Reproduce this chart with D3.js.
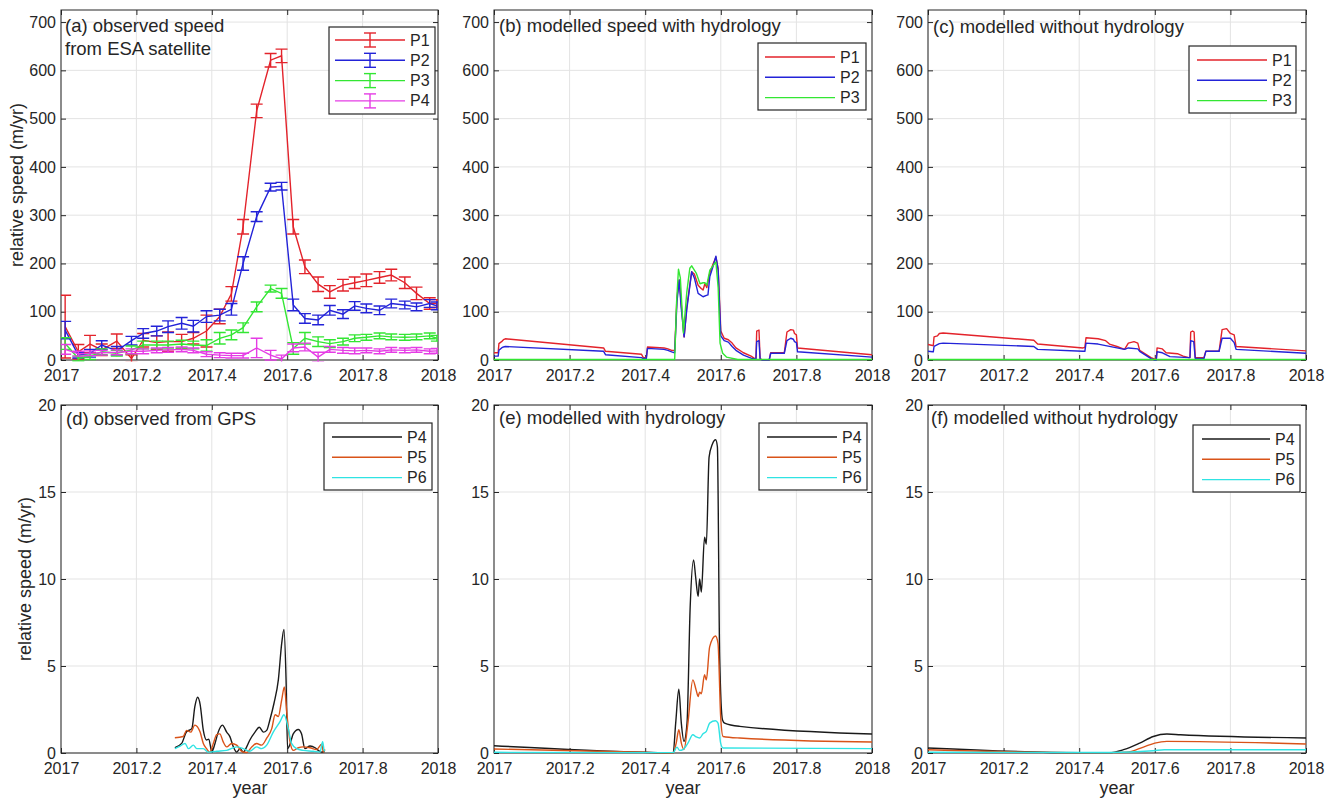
<!DOCTYPE html>
<html><head><meta charset="utf-8">
<script src="https://cdn.jsdelivr.net/npm/d3@7"></script>
<style>
body{margin:0;background:#fff;}
svg text{font-family:"Liberation Sans",Arial,Helvetica,sans-serif;fill:#262626;}
</style></head>
<body><svg id="c" width="1335" height="801"></svg>
<script>
// ---------- tick data ----------
const xTicks = [2017, 2017.2, 2017.4, 2017.6, 2017.8, 2018];
const xTickLabels = ["2017", "2017.2", "2017.4", "2017.6", "2017.8", "2018"];
const yTicksTop = [0, 100, 200, 300, 400, 500, 600, 700];
const yTicksBottom = [0, 5, 10, 15, 20];

// ---------- (a) observed satellite speed with error bars ----------
const obsTime = [2017.011, 2017.046, 2017.077, 2017.108, 2017.148, 2017.187, 2017.218, 2017.254, 2017.284, 2017.320, 2017.351, 2017.386, 2017.421, 2017.452, 2017.483, 2017.519, 2017.556, 2017.585, 2017.616, 2017.647, 2017.682, 2017.713, 2017.748, 2017.779, 2017.810, 2017.845, 2017.876, 2017.912, 2017.943, 2017.978, 2017.997];
const obsP1 = [69, 17, 33, 21, 39, 3, 41, 36, 38, 38, 45, 60, 90, 137, 276, 516, 621, 630, 276, 193, 157, 141, 155, 160, 165, 171, 176, 160, 138, 117, 117];
const obsP1Err = [65, 15, 18, 12, 15, 8, 14, 14, 20, 15, 12, 33, 15, 15, 15, 14, 14, 14, 15, 14, 15, 13, 12, 12, 13, 12, 12, 12, 13, 12, 8];
const obsP2 = [62, 10, 14, 31, 19, 40, 55, 60, 69, 76, 70, 90, 93, 105, 200, 297, 358, 360, 114, 86, 83, 103, 95, 112, 107, 103, 117, 114, 110, 117, 112];
const obsP2Err = [18, 6, 8, 9, 9, 9, 10, 10, 12, 12, 12, 12, 12, 12, 14, 10, 8, 8, 12, 10, 10, 10, 9, 9, 9, 9, 9, 8, 8, 8, 8];
const obsP3 = [34, 3, 7, 17, 14, 21, 31, 31, 31, 33, 31, 30, 45, 52, 67, 110, 148, 138, 24, 45, 38, 34, 38, 45, 47, 50, 48, 47, 48, 50, 45];
const obsP3Err = [12, 5, 6, 6, 6, 8, 8, 8, 8, 8, 8, 12, 12, 10, 10, 10, 7, 10, 12, 12, 10, 8, 7, 7, 6, 6, 6, 6, 6, 6, 6];
const obsP4 = [22, 13, 14, 15, 16, 18, 18, 20, 21, 22, 20, 12, 10, 9, 9, 25, 10, 2, 25, 27, 6, 22, 20, 19, 20, 18, 21, 20, 21, 18, 19];
const obsP4Err = [10, 5, 5, 5, 5, 5, 5, 5, 5, 5, 5, 5, 5, 5, 5, 20, 10, 8, 8, 8, 10, 6, 6, 6, 5, 5, 5, 5, 5, 5, 5];

// ---------- (b) modelled with hydrology ----------
const bP1 = [[2017.0,15],[2017.011,15],[2017.013,34],[2017.02,38],[2017.025,42],[2017.03,44],[2017.29,25],[2017.295,18],[2017.39,12],[2017.395,5],[2017.403,5],[2017.406,27],[2017.45,25],[2017.46,23],[2017.47,20],[2017.478,20],[2017.484,130],[2017.49,166],[2017.495,120],[2017.503,48],[2017.51,110],[2017.523,183],[2017.53,178],[2017.54,155],[2017.548,148],[2017.553,145],[2017.558,158],[2017.563,150],[2017.571,180],[2017.58,200],[2017.587,213],[2017.593,190],[2017.6,60],[2017.609,45],[2017.62,42],[2017.63,35],[2017.64,25],[2017.66,15],[2017.68,8],[2017.69,3],[2017.693,3],[2017.695,60],[2017.701,62],[2017.704,3],[2017.71,0],[2017.728,0],[2017.732,15],[2017.768,15],[2017.775,58],[2017.785,63],[2017.792,62],[2017.795,55],[2017.8,52],[2017.803,25],[2018.0,11]];
const bP2 = [[2017.0,8],[2017.011,8],[2017.013,20],[2017.02,25],[2017.025,27],[2017.03,28],[2017.29,18],[2017.295,11],[2017.39,5],[2017.395,3],[2017.403,3],[2017.406,24],[2017.45,22],[2017.46,20],[2017.47,17],[2017.478,15],[2017.484,120],[2017.49,166],[2017.495,110],[2017.503,48],[2017.51,105],[2017.523,183],[2017.53,170],[2017.54,138],[2017.553,131],[2017.562,134],[2017.566,135],[2017.571,173],[2017.58,195],[2017.587,215],[2017.593,186],[2017.6,50],[2017.609,40],[2017.62,37],[2017.63,28],[2017.64,20],[2017.66,10],[2017.68,4],[2017.69,2],[2017.693,2],[2017.695,38],[2017.701,40],[2017.704,2],[2017.71,0],[2017.728,0],[2017.732,14],[2017.768,14],[2017.775,40],[2017.785,45],[2017.792,43],[2017.795,38],[2017.8,36],[2017.803,17],[2018.0,6]];
const bP3 = [[2017.0,1],[2017.478,1],[2017.483,120],[2017.488,188],[2017.493,170],[2017.501,56],[2017.51,140],[2017.518,190],[2017.523,195],[2017.535,180],[2017.545,158],[2017.553,160],[2017.558,160],[2017.563,155],[2017.571,186],[2017.58,196],[2017.587,203],[2017.593,150],[2017.598,35],[2017.605,14],[2017.615,6],[2017.645,1],[2018.0,1]];

// ---------- (c) modelled without hydrology ----------
const cP1 = [[2017.0,32],[2017.012,30],[2017.014,30],[2017.016,48],[2017.025,50],[2017.03,55],[2017.04,56],[2017.28,41],[2017.29,33],[2017.41,25],[2017.415,26],[2017.418,46],[2017.45,44],[2017.47,40],[2017.48,33],[2017.5,28],[2017.52,22],[2017.53,35],[2017.545,38],[2017.555,35],[2017.56,20],[2017.59,5],[2017.6,2],[2017.604,2],[2017.606,25],[2017.62,23],[2017.63,15],[2017.66,13],[2017.675,8],[2017.69,5],[2017.693,5],[2017.695,58],[2017.7,60],[2017.704,58],[2017.707,5],[2017.73,5],[2017.735,18],[2017.77,18],[2017.778,63],[2017.79,65],[2017.8,55],[2017.81,52],[2017.815,28],[2018.0,19]];
const cP2 = [[2017.0,18],[2017.012,17],[2017.014,17],[2017.016,28],[2017.03,34],[2017.04,35],[2017.28,28],[2017.29,22],[2017.41,18],[2017.415,18],[2017.418,35],[2017.45,33],[2017.5,25],[2017.52,22],[2017.53,25],[2017.555,23],[2017.56,18],[2017.59,3],[2017.6,0],[2017.604,0],[2017.606,17],[2017.62,15],[2017.64,7],[2017.69,5],[2017.693,5],[2017.695,40],[2017.703,38],[2017.707,3],[2017.73,3],[2017.735,18],[2017.77,18],[2017.778,45],[2017.8,45],[2017.81,36],[2017.815,22],[2018.0,14]];
const cP3 = [[2017.0,1],[2018.0,1]];

// ---------- (d) observed from GPS ----------
const dP4 = [[2017.302,0.3],[2017.320,0.55],[2017.333,1.22],[2017.347,1.4],[2017.355,2.66],[2017.3625,3.2],[2017.369,2.8],[2017.3775,1.3],[2017.386,0.75],[2017.392,0.8],[2017.400,0.07],[2017.4085,0.55],[2017.417,1.2],[2017.428,1.6],[2017.4395,1.2],[2017.448,0.94],[2017.457,0.36],[2017.466,0.05],[2017.475,0.25],[2017.4835,0.05],[2017.4925,0.35],[2017.501,0.75],[2017.5146,1.2],[2017.526,1.48],[2017.5367,1.2],[2017.5456,1.3],[2017.554,1.9],[2017.565,2.86],[2017.5765,4.2],[2017.5854,6.3],[2017.5915,7.1],[2017.597,4.2],[2017.601,0.25],[2017.6074,0.5],[2017.616,1.1],[2017.6295,1.35],[2017.638,1.1],[2017.647,0.25],[2017.6605,0.4],[2017.674,0.3],[2017.6825,0.15],[2017.6915,0.05],[2017.700,0.1]];
const dP5 = [[2017.302,0.88],[2017.324,0.95],[2017.333,1.3],[2017.344,1.2],[2017.355,1.6],[2017.369,1.2],[2017.3775,0.55],[2017.386,0.25],[2017.395,0.05],[2017.404,0.55],[2017.413,1.05],[2017.4215,1.1],[2017.430,0.65],[2017.4395,0.35],[2017.4525,0.55],[2017.466,0.45],[2017.479,0.1],[2017.4925,0.03],[2017.506,0.35],[2017.519,0.55],[2017.532,0.45],[2017.5456,0.85],[2017.559,1.4],[2017.568,2.2],[2017.5765,2.1],[2017.5854,3.05],[2017.5925,3.8],[2017.599,2.3],[2017.6074,0.65],[2017.616,0.15],[2017.6295,0.3],[2017.6425,0.35],[2017.6605,0.3],[2017.678,0.2],[2017.6915,0.5],[2017.696,0.05],[2017.700,0.2]];
const dP6 = [[2017.302,0.25],[2017.316,0.4],[2017.329,0.55],[2017.338,0.25],[2017.351,0.45],[2017.360,0.25],[2017.3775,0.25],[2017.391,0.05],[2017.413,0.1],[2017.4395,0.15],[2017.466,0.35],[2017.4835,0.25],[2017.501,0.1],[2017.519,0.35],[2017.532,0.25],[2017.5456,0.45],[2017.563,1.2],[2017.581,1.8],[2017.5915,2.2],[2017.603,1.4],[2017.6115,0.55],[2017.625,0.25],[2017.6425,0.15],[2017.669,0.1],[2017.687,0.05],[2017.694,0.65],[2017.698,0.15],[2017.700,0.1]];

// ---------- (e) modelled with hydrology ----------
const eP4 = [[2017.0,0.42],[2017.394,0.04],[2017.474,0],[2017.4806,1.7],[2017.489,3.66],[2017.4956,1.7],[2017.5026,0.67],[2017.5106,1.7],[2017.519,8.4],[2017.528,11.1],[2017.5335,10.1],[2017.54,9.0],[2017.544,10.0],[2017.5485,9.25],[2017.557,12.4],[2017.5617,12.0],[2017.569,17.0],[2017.5776,17.75],[2017.5864,18.0],[2017.591,17.6],[2017.597,5.5],[2017.6045,1.9],[2017.61,1.72],[2017.65,1.53],[2018.0,1.09]];
const eP5 = [[2017.0,0.23],[2017.394,0.04],[2017.474,0],[2017.482,0.57],[2017.489,1.34],[2017.4956,0.57],[2017.5026,0.2],[2017.513,1.72],[2017.526,4.2],[2017.535,3.6],[2017.54,3.25],[2017.544,3.5],[2017.5485,3.4],[2017.557,4.5],[2017.5617,4.2],[2017.5705,6.1],[2017.586,6.72],[2017.5926,6.3],[2017.5996,2.1],[2017.606,0.95],[2017.65,0.86],[2018.0,0.63]];
const eP6 = [[2017.0,0.04],[2017.474,0.02],[2017.484,0.34],[2017.491,0.15],[2017.5,0.2],[2017.513,0.57],[2017.526,1.05],[2017.535,0.92],[2017.544,0.86],[2017.553,1.1],[2017.5617,1.24],[2017.5705,1.72],[2017.586,1.85],[2017.5926,1.72],[2017.5996,0.57],[2017.606,0.29],[2018.0,0.25]];

// ---------- (f) modelled without hydrology ----------
const fP4 = [[2017.0,0.29],[2017.402,0.02],[2017.48,0.02],[2017.517,0.19],[2017.56,0.57],[2017.596,0.95],[2017.632,1.09],[2017.668,1.05],[2018.0,0.86]];
const fP5 = [[2017.0,0.19],[2017.402,0.02],[2017.48,0.02],[2017.525,0.04],[2017.57,0.34],[2017.6,0.57],[2017.632,0.67],[2018.0,0.52]];
const fP6 = [[2017.0,0.04],[2017.48,0.03],[2017.596,0.13],[2017.625,0.19],[2018.0,0.19]];

// ---------- colours ----------
const C = {red:"#e3232b", blue:"#2323d8", green:"#33e633", magenta:"#e53ce5", black:"#1a1a1a", orange:"#d95319", cyan:"#2fe3e3"};

const svg = d3.select("#c");
const FONT = "Liberation Sans, Arial, Helvetica, sans-serif";

function panel(opt) {
  const x = d3.scaleLinear().domain([2017, 2018]).range([opt.left, opt.right]);
  const y = d3.scaleLinear().domain([0, opt.ymax]).range([opt.bottom, opt.top]);
  const g = svg.append("g");
  const cid = "clip" + opt.id;
  svg.append("clipPath").attr("id", cid).append("rect")
    .attr("x", opt.left).attr("y", opt.top).attr("width", opt.right - opt.left).attr("height", opt.bottom - opt.top + 1.5);
  g.append("g").selectAll("line").data(xTicks).join("line")
    .attr("x1", d => x(d)).attr("x2", d => x(d)).attr("y1", opt.top).attr("y2", opt.bottom)
    .attr("stroke", "#e3e3e3").attr("stroke-width", 1);
  g.append("g").selectAll("line").data(opt.yticks).join("line")
    .attr("y1", d => y(d)).attr("y2", d => y(d)).attr("x1", opt.left).attr("x2", opt.right)
    .attr("stroke", "#e3e3e3").attr("stroke-width", 1);
  const xa = d3.axisBottom(x).tickValues(xTicks).tickFormat((d, i) => xTickLabels[i]).tickSizeInner(-5).tickSizeOuter(0).tickPadding(10);
  const gx = g.append("g").attr("transform", `translate(0,${opt.bottom})`).call(xa);
  const xt = d3.axisTop(x).tickValues(xTicks).tickFormat("").tickSizeInner(-5).tickSizeOuter(0);
  const gxt = g.append("g").attr("transform", `translate(0,${opt.top})`).call(xt);
  const ya = d3.axisLeft(y).tickValues(opt.yticks).tickFormat(d => String(d)).tickSizeInner(-5).tickSizeOuter(0).tickPadding(5);
  const gy = g.append("g").attr("transform", `translate(${opt.left},0)`).call(ya);
  const yr = d3.axisRight(y).tickValues(opt.yticks).tickFormat("").tickSizeInner(-5).tickSizeOuter(0);
  const gyr = g.append("g").attr("transform", `translate(${opt.right},0)`).call(yr);
  [gx, gxt, gy, gyr].forEach(a => {
    a.select(".domain").remove();
    a.selectAll("line").attr("stroke", "#262626");
    a.selectAll("text").attr("font-size", 16).attr("font-family", FONT).attr("fill", "#262626");
  });
  g.append("rect").attr("x", opt.left).attr("y", opt.top).attr("width", opt.right - opt.left).attr("height", opt.bottom - opt.top)
    .attr("fill", "none").attr("stroke", "#262626").attr("stroke-width", 1);
  const plot = svg.append("g").attr("clip-path", `url(#${cid})`);
  return {x, y, g, plot};
}

function drawLine(p, data, color, curve) {
  p.plot.append("path").datum(data)
    .attr("d", d3.line().x(d => p.x(d[0])).y(d => p.y(d[1])).curve(curve || d3.curveLinear))
    .attr("fill", "none").attr("stroke", color).attr("stroke-width", 1.4).attr("stroke-linejoin", "round");
}

function drawErr(p, t, v, e, color) {
  const pts = t.map((d, i) => [d, v[i], e[i]]);
  p.plot.append("path").datum(pts)
    .attr("d", d3.line().x(d => p.x(d[0])).y(d => p.y(d[1])))
    .attr("fill", "none").attr("stroke", color).attr("stroke-width", 1.4);
  const g = p.plot.append("g").attr("stroke", color).attr("stroke-width", 1.4);
  pts.forEach(d => {
    const cx = p.x(d[0]), y1 = p.y(d[1] - d[2]), y2 = p.y(d[1] + d[2]);
    g.append("line").attr("x1", cx).attr("x2", cx).attr("y1", y1).attr("y2", y2);
    g.append("line").attr("x1", cx - 6).attr("x2", cx + 6).attr("y1", y1).attr("y2", y1);
    g.append("line").attr("x1", cx - 6).attr("x2", cx + 6).attr("y1", y2).attr("y2", y2);
  });
}

function legend(box, items, err) {
  const g = svg.append("g");
  g.append("rect").attr("x", box.x).attr("y", box.y).attr("width", box.w).attr("height", box.h)
    .attr("fill", "#fff").attr("stroke", "#262626").attr("stroke-width", 1.2);
  items.forEach((it, i) => {
    const yy = box.row0 + i * box.dy;
    g.append("line").attr("x1", box.l1).attr("x2", box.l2).attr("y1", yy).attr("y2", yy)
      .attr("stroke", it.color).attr("stroke-width", 1.4);
    if (err) {
      const cx = (box.l1 + box.l2) / 2;
      g.append("line").attr("x1", cx).attr("x2", cx).attr("y1", yy - 7).attr("y2", yy + 7).attr("stroke", it.color).attr("stroke-width", 1.4);
      g.append("line").attr("x1", cx - 6).attr("x2", cx + 6).attr("y1", yy - 7).attr("y2", yy - 7).attr("stroke", it.color).attr("stroke-width", 1.4);
      g.append("line").attr("x1", cx - 6).attr("x2", cx + 6).attr("y1", yy + 7).attr("y2", yy + 7).attr("stroke", it.color).attr("stroke-width", 1.4);
    }
    g.append("text").attr("x", box.l2 + 5).attr("y", yy + 5.5).attr("font-size", 16).text(it.name);
  });
}

function title(x, y, lines) {
  const t = svg.append("text").attr("font-size", 18.5);
  lines.forEach((s, i) => t.append("tspan").attr("x", x).attr("y", y + i * 23).text(s));
}

// ---------- panels ----------
const topCfg = {top: 10, bottom: 360, ymax: 725, yticks: yTicksTop};
const botCfg = {top: 405, bottom: 753, ymax: 20, yticks: yTicksBottom};
const cols = [[61, 438], [494, 872], [928, 1306]];

const pa = panel({id: "a", left: cols[0][0], right: cols[0][1], ...topCfg});
drawErr(pa, obsTime, obsP1, obsP1Err, C.red);
drawErr(pa, obsTime, obsP2, obsP2Err, C.blue);
drawErr(pa, obsTime, obsP3, obsP3Err, C.green);
drawErr(pa, obsTime, obsP4, obsP4Err, C.magenta);
title(65, 32, ["(a) observed speed", "from ESA satellite"]);
legend({x: 329, y: 27, w: 106, h: 87, row0: 40, dy: 20.3, l1: 335, l2: 405},
  [{name: "P1", color: C.red}, {name: "P2", color: C.blue}, {name: "P3", color: C.green}, {name: "P4", color: C.magenta}], true);

const pb = panel({id: "b", left: cols[1][0], right: cols[1][1], ...topCfg});
drawLine(pb, bP1, C.red); drawLine(pb, bP2, C.blue); drawLine(pb, bP3, C.green);
title(499, 32, ["(b) modelled speed with hydrology"]);
legend({x: 758, y: 43, w: 108, h: 67, row0: 57, dy: 20.3, l1: 765, l2: 835},
  [{name: "P1", color: C.red}, {name: "P2", color: C.blue}, {name: "P3", color: C.green}], false);

const pc = panel({id: "c", left: cols[2][0], right: cols[2][1], ...topCfg});
drawLine(pc, cP1, C.red); drawLine(pc, cP2, C.blue); drawLine(pc, cP3, C.green);
title(933, 33, ["(c) modelled without hydrology"]);
legend({x: 1189, y: 46, w: 107, h: 67, row0: 60, dy: 20.3, l1: 1197, l2: 1267},
  [{name: "P1", color: C.red}, {name: "P2", color: C.blue}, {name: "P3", color: C.green}], false);

const pd = panel({id: "d", left: cols[0][0], right: cols[0][1], ...botCfg});
drawLine(pd, dP4, C.black, d3.curveMonotoneX); drawLine(pd, dP5, C.orange, d3.curveMonotoneX); drawLine(pd, dP6, C.cyan, d3.curveMonotoneX);
title(66, 425, ["(d) observed from GPS"]);
legend({x: 324, y: 423, w: 108, h: 67, row0: 437, dy: 20.3, l1: 332, l2: 402},
  [{name: "P4", color: C.black}, {name: "P5", color: C.orange}, {name: "P6", color: C.cyan}], false);

const pe = panel({id: "e", left: cols[1][0], right: cols[1][1], ...botCfg});
drawLine(pe, eP4, C.black, d3.curveMonotoneX); drawLine(pe, eP5, C.orange, d3.curveMonotoneX); drawLine(pe, eP6, C.cyan, d3.curveMonotoneX);
title(499, 424, ["(e) modelled with hydrology"]);
legend({x: 759, y: 423, w: 108, h: 67, row0: 437, dy: 20.3, l1: 767, l2: 837},
  [{name: "P4", color: C.black}, {name: "P5", color: C.orange}, {name: "P6", color: C.cyan}], false);

const pf = panel({id: "f", left: cols[2][0], right: cols[2][1], ...botCfg});
drawLine(pf, fP4, C.black, d3.curveMonotoneX); drawLine(pf, fP5, C.orange, d3.curveMonotoneX); drawLine(pf, fP6, C.cyan, d3.curveMonotoneX);
title(931, 424, ["(f) modelled without hydrology"]);
legend({x: 1193, y: 425, w: 107, h: 67, row0: 439, dy: 20.3, l1: 1202, l2: 1270},
  [{name: "P4", color: C.black}, {name: "P5", color: C.orange}, {name: "P6", color: C.cyan}], false);

// ---------- axis labels ----------
svg.append("text").attr("transform", "translate(23,185) rotate(-90)").attr("text-anchor", "middle").attr("font-size", 18).text("relative speed (m/yr)");
svg.append("text").attr("transform", "translate(31,579) rotate(-90)").attr("text-anchor", "middle").attr("font-size", 18).text("relative speed (m/yr)");
svg.append("text").attr("x", 250).attr("y", 794).attr("text-anchor", "middle").attr("font-size", 18).text("year");
svg.append("text").attr("x", 683).attr("y", 794).attr("text-anchor", "middle").attr("font-size", 18).text("year");
svg.append("text").attr("x", 1117).attr("y", 794).attr("text-anchor", "middle").attr("font-size", 18).text("year");
</script></body></html>
